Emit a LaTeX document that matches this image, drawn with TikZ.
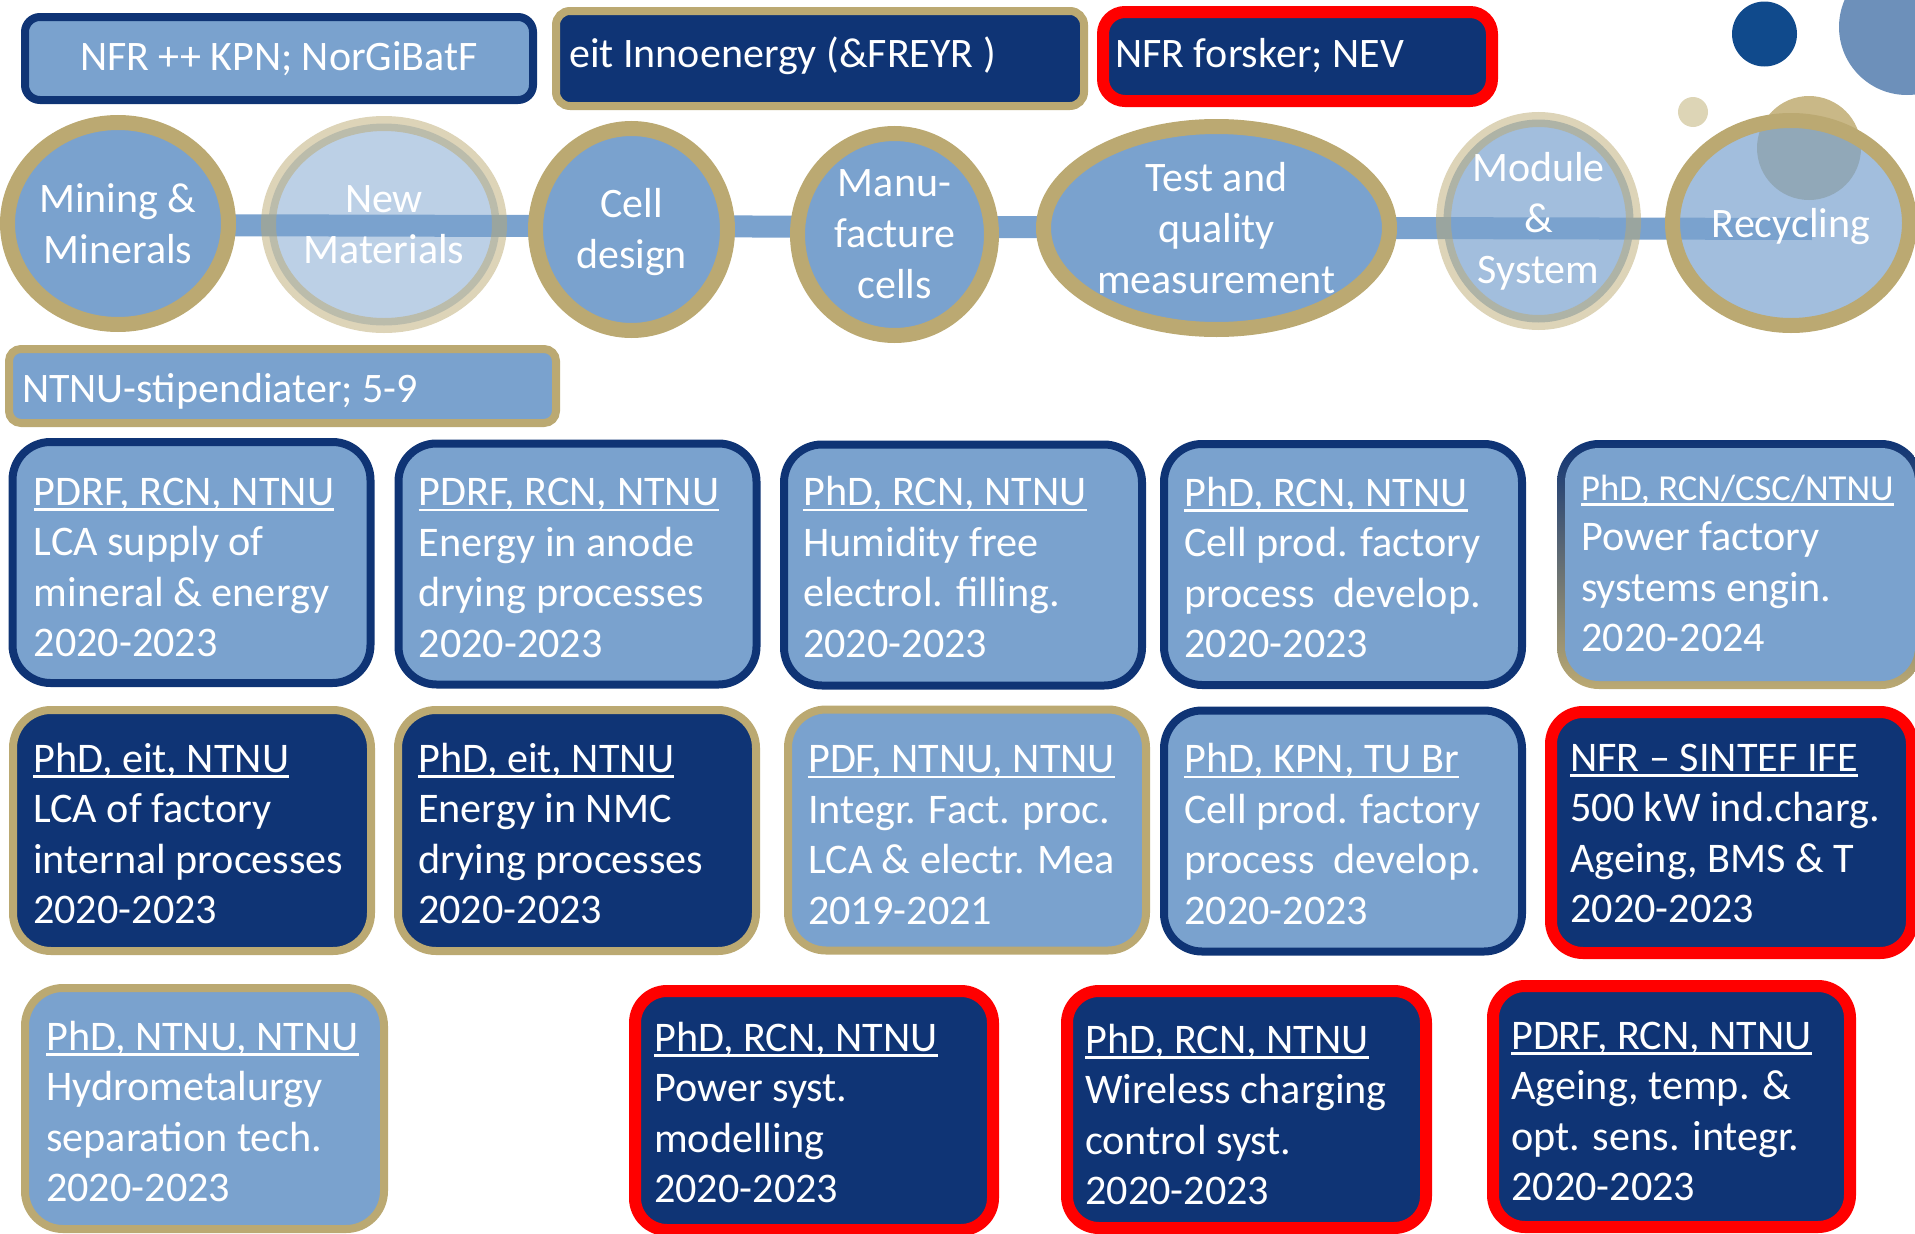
\documentclass[tikz,border=0pt]{standalone}
\usepackage{fontspec}
\setmainfont{Carlito}
\usetikzlibrary{shapes.geometric, backgrounds}

\definecolor{paleblue}{HTML}{7AA2CE}
\definecolor{navy}{HTML}{0F3475}
\definecolor{gold}{HTML}{BBA972}
\definecolor{alarm}{HTML}{FF0000}
\definecolor{deepblue}{HTML}{104A8C}
\definecolor{midblue}{HTML}{6D90BA}
\definecolor{sand}{HTML}{DDD5B6}
\definecolor{khaki}{HTML}{C9B887}

\newcommand{\cardfont}{\fontsize{42.2}{50.5}\selectfont}
\newcommand{\stagefont}{\fontsize{42}{51}\selectfont}
\newcommand{\bannerfont}{\fontsize{42}{50}\selectfont}
\newcommand{\ulhead}[1]{\setbox0\hbox{#1}\rlap{\rule[-5.7pt]{\wd0}{2.4pt}}\box0}
\newcommand{\cardtext}[4]{\begin{tabular}[t]{@{}l@{}}\ulhead{#1}\\#2\\#3\\#4\end{tabular}}

\tikzset{
  stage/.style={ellipse, draw=gold, fill=paleblue, line width=15pt, inner sep=0pt},
  ghost/.style={stage, fill opacity=0.5, draw opacity=0.5},
  stagelabel/.style={align=center, text=white, font=\stagefont, inner sep=0pt},
  bar/.style={draw=paleblue, line width=22pt},
  card/.style={rectangle, rounded corners=38pt, line width=8pt, inner sep=0pt,
    minimum width=358pt, minimum height=241pt},
  lightcard/.style={card, fill=paleblue},
  darkcard/.style={card, fill=navy},
  navyrim/.style={draw=navy},
  goldrim/.style={draw=gold},
  redrim/.style={draw=alarm, line width=12pt, rounded corners=32pt},
  cardtxt/.style={anchor=base west, inner sep=0pt, text=white, font=\cardfont},
  banner/.style={rectangle, rounded corners=15pt, line width=8pt, inner sep=0pt},
  bannertxt/.style={anchor=base west, inner sep=0pt, text=white, font=\bannerfont}
}

\begin{document}
\begin{tikzpicture}[x=1pt, y=-1pt]
\useasboundingbox (0,0) rectangle (1915,1234);

% funding banners
\node[banner, fill=paleblue, draw=navy, minimum width=508pt, minimum height=83pt,
  text=white, font=\bannerfont] (nfr) at (279,58.5) {NFR ++ KPN; NorGiBatF};
\node[banner, fill=navy, draw=gold, rounded corners=14pt, minimum width=528pt, minimum height=95pt] (eit) at (820,58.5) {};
\node[bannertxt] (teit) at (569,67) {eit Innoenergy (\&FREYR )};
\node[banner, fill=navy, draw=alarm, line width=12pt, rounded corners=22pt, minimum width=389pt, minimum height=89pt] (forsker) at (1297.5,56.5) {};
\node[bannertxt] (tforsker) at (1115,67) {NFR forsker; NEV};

% value chain
\node[stage, minimum width=221pt, minimum height=202pt] (mining) at (118,223.5) {};
\node[ghost, minimum width=231pt, minimum height=202pt] (newmat) at (384,224.5) {};
\node[stage, minimum width=192pt, minimum height=202pt] (celldes) at (631.5,229.5) {};
\node[stage, minimum width=194pt, minimum height=202pt] (manufac) at (894.5,234.5) {};
\node[stage, minimum width=346pt, minimum height=203pt] (testq) at (1216.5,228) {};
\node[ghost, fill opacity=0.7, minimum width=190pt, minimum height=203pt] (module) at (1538.5,221) {};
\node[stage, fill opacity=0.7, minimum width=237pt, minimum height=205pt] (recyc) at (1791,223) {};

\node[stagelabel] (lmining) at (mining) {Mining \&\\Minerals};
\node[stagelabel] (lnewmat) at (newmat) {New\\Materials};
\node[stagelabel, yshift=-3pt] (lcelldes) at (celldes) {Cell\\design};
\node[stagelabel] (lmanufac) at (manufac) {Manu-\\facture\\cells};
\node[stagelabel] (ltestq) at (testq) {Test and\\quality\\measurement};
\node[stagelabel] (lmodule) at (module) {Module\\\&\\System};
\node[stagelabel, yshift=-4pt] (lrecyc) at (recyc) {Recycling};

\begin{pgfonlayer}{background}
  \fill[midblue] (1907,27) circle[radius=68pt];
  \fill[deepblue] (1764.5,34) circle[radius=32.5pt];
  \fill[sand] (1693,112) circle[radius=15pt];
  \fill[khaki] (1809,148) circle[radius=52pt];
  \draw[bar] ([yshift=-1.5pt]mining.center) -- ([xshift=21pt,yshift=-6pt]recyc.center);
\end{pgfonlayer}

\node[banner, fill=paleblue, draw=gold, rounded corners=12pt, minimum width=547pt, minimum height=74pt] (stip) at (282.5,386) {};
\node[bannertxt] (tstip) at (22,402) {NTNU-stipendiater; 5-9};

% projects, first row
\node[lightcard, navyrim] (pA) at (191.5,562.5) {};
\node[cardtxt] (tA) at ([shift={(25pt,-67pt)}]pA.north west)
  {\cardtext{PDRF, RCN, NTNU}{LCA supply of}{mineral \& energy}{2020-2023}};
\node[lightcard, navyrim] (pB) at (577.5,564) {};
\node[cardtxt] (tB) at ([shift={(24pt,-66pt)}]pB.north west)
  {\cardtext{PDRF, RCN, NTNU}{Energy in anode}{drying processes}{2020-2023}};
\node[lightcard, navyrim] (pC) at (963,565) {};
\node[cardtxt] (tC) at ([shift={(23pt,-65pt)}]pC.north west)
  {\cardtext{PhD, RCN, NTNU}{Humidity free}{electrol. filling.}{2020-2023}};
\node[lightcard, navyrim] (pD) at (1343,564.5) {};
\node[cardtxt] (tD) at ([shift={(24pt,-66pt)}]pD.north west)
  {\cardtext{PhD, RCN, NTNU}{Cell prod. factory}{process~~develop.}{2020-2023}};
\node[card, top color=navy, bottom color=gold, rounded corners=42pt,
  minimum width=366pt, minimum height=249pt] (pE) at (1740,564.5) {};
\node[lightcard, rounded corners=34pt, minimum width=350pt, minimum height=233pt] (pEin) at (pE) {};
\node[cardtxt] (tE) at ([shift={(20pt,-56pt)}]pEin.north west)
  {\begin{tabular}[t]{@{}l@{}}{\fontsize{36.6}{50.5}\selectfont\ulhead{PhD, RCN/CSC/NTNU}}\\Power factory\\systems engin.\\2020-2024\end{tabular}};

% projects, second row
\node[darkcard, goldrim] (pF) at (192,830.5) {};
\node[cardtxt] (tF) at ([shift={(24pt,-66pt)}]pF.north west)
  {\cardtext{PhD, eit, NTNU}{LCA of factory}{internal processes}{2020-2023}};
\node[darkcard, goldrim] (pG) at (577,830.5) {};
\node[cardtxt] (tG) at ([shift={(24pt,-66pt)}]pG.north west)
  {\cardtext{PhD, eit, NTNU}{Energy in NMC}{drying processes}{2020-2023}};
\node[lightcard, goldrim] (pH) at (967,830) {};
\node[cardtxt] (tH) at ([shift={(24pt,-67pt)}]pH.north west)
  {\cardtext{PDF, NTNU, NTNU}{Integr. Fact. proc.}{LCA \& electr. Mea}{2019-2021}};
\node[lightcard, navyrim] (pI) at (1343,831) {};
\node[cardtxt] (tI) at ([shift={(24pt,-66pt)}]pI.north west)
  {\cardtext{PhD, KPN, TU Br}{Cell prod. factory}{process~~develop.}{2020-2023}};
\node[darkcard, redrim, minimum width=361pt] (pJ) at (1731.5,832.5) {};
\node[cardtxt] (tJ) at ([shift={(25pt,-65pt)}]pJ.north west)
  {\cardtext{NFR – SINTEF IFE}{500 kW ind.charg.}{Ageing, BMS \& T}{2020-2023}};

% projects, third row
\node[lightcard, goldrim, minimum width=359pt] (pK) at (204.5,1108.5) {};
\node[cardtxt] (tK) at ([shift={(25pt,-66pt)}]pK.north west)
  {\cardtext{PhD, NTNU, NTNU}{Hydrometalurgy}{separation tech.}{2020-2023}};
\node[darkcard, redrim, minimum height=239pt] (pL) at (814,1110.5) {};
\node[cardtxt] (tL) at ([shift={(25pt,-66pt)}]pL.north west)
  {\cardtext{PhD, RCN, NTNU}{Power syst.}{modelling}{2020-2023}};
\node[darkcard, redrim, minimum width=359pt, minimum height=237pt] (pM) at (1246.5,1109.5) {};
\node[cardtxt] (tM) at ([shift={(24pt,-68pt)}]pM.north west)
  {\cardtext{PhD, RCN, NTNU}{Wireless charging}{control syst.}{2020-2023}};
\node[darkcard, redrim, minimum width=357pt] (pN) at (1671.5,1106.5) {};
\node[cardtxt] (tN) at ([shift={(24pt,-69pt)}]pN.north west)
  {\cardtext{PDRF, RCN, NTNU}{Ageing, temp. \&}{opt. sens. integr.}{2020-2023}};
\end{tikzpicture}
\end{document}
